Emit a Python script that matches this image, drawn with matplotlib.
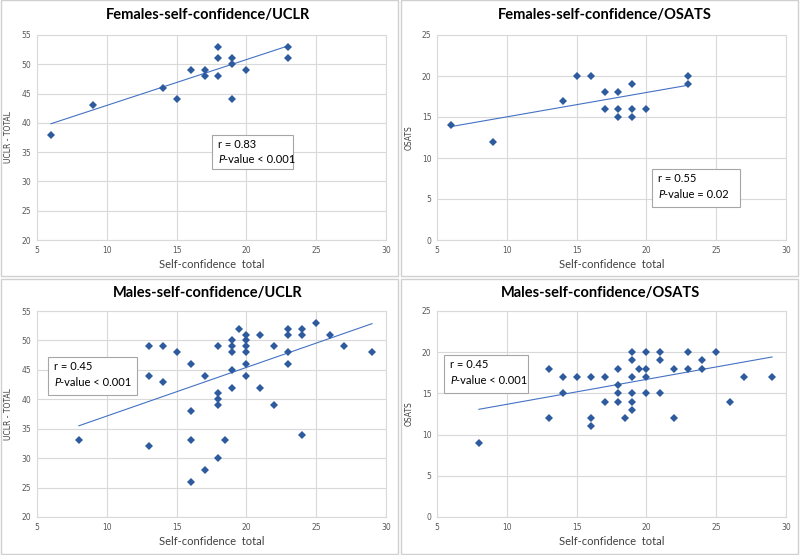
import numpy as np
import matplotlib
matplotlib.use("Agg")
import matplotlib.pyplot as plt
from matplotlib.patches import Rectangle

# ---------------- data ----------------
f_uclr_x = [6, 9, 14, 15, 16, 17, 17, 18, 18, 18, 19, 19, 19, 20, 23, 23]
f_uclr_y = [38, 43, 46, 44, 49, 49, 48, 53, 51, 48, 51, 50, 44, 49, 53, 51]

f_osats_x = [6, 9, 14, 15, 16, 17, 17, 18, 18, 18, 19, 19, 19, 20, 23, 23]
f_osats_y = [14, 12, 17, 20, 20, 18, 16, 18, 16, 15, 19, 16, 15, 16, 20, 19]

m_uclr_x = [8, 13, 13, 13, 14, 14, 15, 16, 16, 16, 16, 17, 17,
            18, 18, 18, 18, 18, 18.5, 19, 19, 19, 19, 19, 19.5,
            20, 20, 20, 20, 20, 20, 21, 21, 22, 22,
            23, 23, 23, 23, 24, 24, 24, 25, 26, 27, 29]
m_uclr_y = [33, 49, 44, 32, 49, 43, 48, 46, 38, 33, 26, 44, 28,
            49, 41, 40, 39, 30, 33, 50, 49, 48, 45, 42, 52,
            51, 50, 49, 48, 46, 44, 51, 42, 49, 39,
            52, 51, 48, 46, 52, 51, 34, 53, 51, 49, 48]

m_osats_x = [8, 13, 13, 14, 14, 15, 16, 16, 16, 17, 17,
             18, 18, 18, 18, 18.5, 19, 19, 19, 19, 19, 19, 19.5,
             20, 20, 20, 20, 21, 21, 21, 22, 22, 23, 23, 24, 24,
             25, 26, 27, 29]
m_osats_y = [9, 18, 12, 17, 15, 17, 17, 12, 11, 17, 14,
             18, 16, 15, 14, 12, 20, 19, 17, 15, 14, 13, 18,
             20, 18, 17, 15, 20, 19, 15, 18, 12, 20, 18, 19, 18,
             20, 14, 17, 17]

# linear trendline values read at the first and last x of each series
trend_start = [39.85, 13.83, 35.5, 13.07]
trend_end = [53.15, 18.88, 52.85, 19.42]

titles = ["Females-self-confidence/UCLR", "Females-self-confidence/OSATS",
          "Males-self-confidence/UCLR", "Males-self-confidence/OSATS"]
ylabels = ["UCLR - TOTAL", "OSATS", "UCLR - TOTAL", "OSATS"]
xlabel = "Self-confidence  total"
stats_r = ["r = 0.83", "r = 0.55", "r = 0.45", "r = 0.45"]
stats_p = ["< 0.001", "= 0.02", "< 0.001", "< 0.001"]

W, H = 800, 555
fig = plt.figure(figsize=(8, 5.55), dpi=100)
fig.patch.set_facecolor("white")

def fx(px):
    return px / W

def fy(py):
    return 1 - py / H

# panel boxes (left, top, right, bottom) in pixels
panels = [(1, 0, 398, 276), (401, 0, 798, 276), (1, 279, 398, 554), (401, 279, 798, 554)]
# plot areas (left, top, right, bottom)
areas = [(37, 35, 386, 240), (437, 35, 786, 240), (37, 311, 386, 517), (437, 311, 786, 517)]
# stats boxes (left, top, right, bottom)
boxes = [(212, 135, 293, 169), (652, 169, 740, 207), (48, 357, 137, 395), (444, 355, 528, 393)]
# title centres (x, y) in pixels
title_pos = [(208, 15), (605, 15), (208, 293), (600, 293)]

data = [(f_uclr_x, f_uclr_y), (f_osats_x, f_osats_y), (m_uclr_x, m_uclr_y), (m_osats_x, m_osats_y)]
ylims = [(20, 55), (0, 25), (20, 55), (0, 25)]

grid_c = "#D9D9D9"
mark_c = "#2E5A9E"
line_c = "#4472C4"
tick_c = "#595959"
FONT = ["Lato", "DejaVu Sans"]

for i in range(4):
    l, t, r, b = panels[i]
    fig.patches.append(Rectangle((fx(l), fy(b)), fx(r - l), (b - t) / H,
                                 transform=fig.transFigure, fill=False,
                                 edgecolor="#D0D0D0", linewidth=1.0))
    al, at, ar, ab = areas[i]
    ax = fig.add_axes([fx(al), fy(ab), fx(ar - al), (ab - at) / H])
    x, y = data[i]
    ax.set_xlim(5, 30)
    ax.set_ylim(*ylims[i])
    ax.set_xticks(range(5, 31, 5))
    ax.set_yticks(range(ylims[i][0], ylims[i][1] + 1, 5))
    ax.grid(True, color=grid_c, linewidth=0.8)
    ax.set_axisbelow(True)
    for s in ax.spines.values():
        s.set_color(grid_c)
        s.set_linewidth(0.8)
    ax.tick_params(length=0, labelsize=5.5, labelcolor=tick_c, pad=4)
    # trend line
    xs = [min(x), max(x)]
    ax.plot(xs, [trend_start[i], trend_end[i]], color=line_c, linewidth=0.8, zorder=2)
    ax.plot(x, y, linestyle="none", marker="D", markersize=3.8,
            color=mark_c, markeredgewidth=0, zorder=3)
    ax.set_xlabel(xlabel, fontsize=8, family=FONT, color="#404040", labelpad=3)
    ax.set_ylabel(ylabels[i], fontsize=5.5, family="DejaVu Sans", color="#404040", labelpad=6)
    # title
    tx, ty = title_pos[i]
    fig.text(fx(tx), fy(ty), titles[i],
             ha="center", va="center", fontsize=10.5, fontweight="bold",
             family=FONT, color="black")
    # stats box
    bl, bt, br, bb = boxes[i]
    fig.patches.append(Rectangle((fx(bl), fy(bb)), fx(br - bl), (bb - bt) / H,
                                 transform=fig.transFigure, facecolor="white",
                                 edgecolor="#A6A6A6", linewidth=0.8, zorder=5))
    fig.text(fx(bl + 6), fy(bt + 10), stats_r[i], fontsize=8, family=FONT,
             va="center", ha="left", zorder=6)
    fig.text(fx(bl + 6), fy(bt + 25), "P", fontsize=8, family=FONT, style="italic",
             va="center", ha="left", zorder=6)
    fig.text(fx(bl + 12), fy(bt + 25), "-value " + stats_p[i],
             fontsize=8, family=FONT, va="center", ha="left", zorder=6)

fig.savefig("out.png", dpi=100, facecolor="white")
